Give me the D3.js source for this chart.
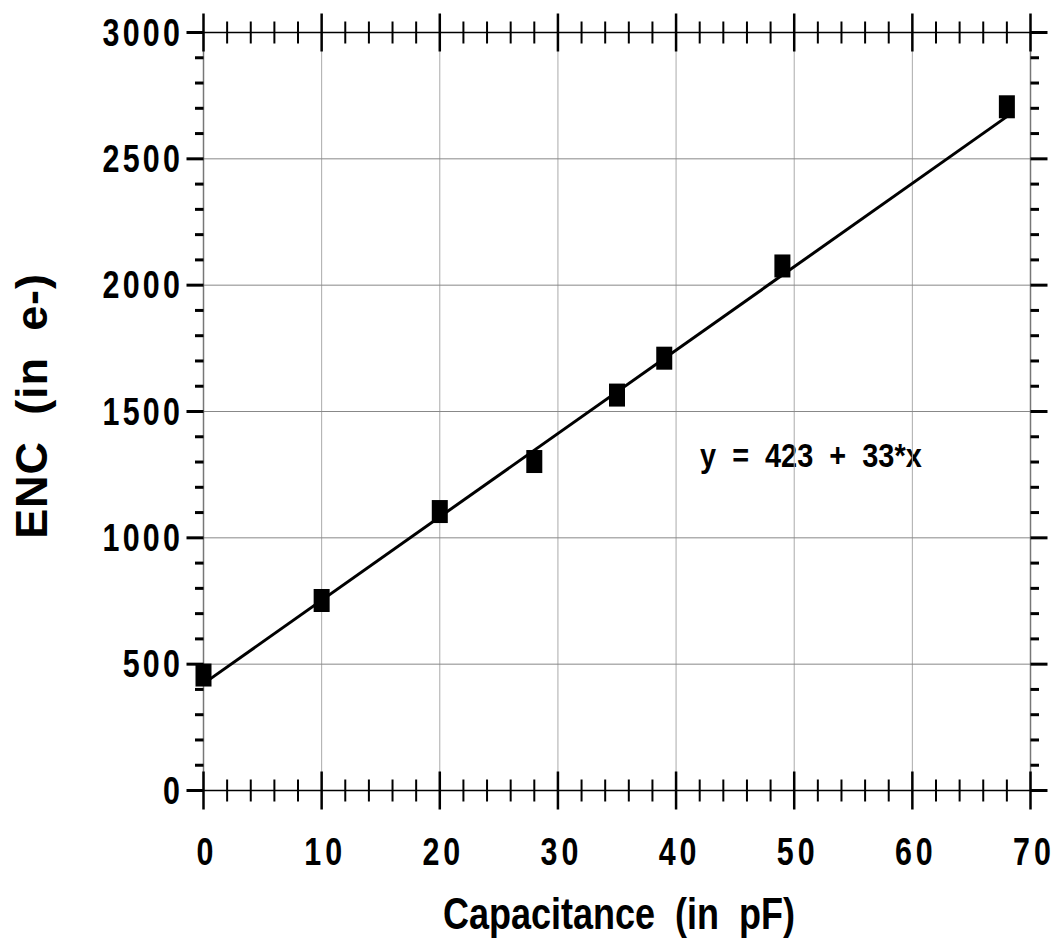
<!DOCTYPE html>
<html>
<head>
<meta charset="utf-8">
<script src="https://cdn.jsdelivr.net/npm/d3@7"></script>
<style>
  body { margin: 0; background: #fff; }
  text { font-family: "Liberation Sans", Arial, sans-serif; font-weight: bold; fill: #000; white-space: pre; }
</style>
</head>
<body>
<script>
// data
const capacitance = [0, 10, 20, 28, 35, 39, 49, 68];
const enc = [457, 752, 1104, 1302, 1565, 1711, 2076, 2706];
const fitIntercept = 423;
const fitSlope = 33;
const xTicks = [0, 10, 20, 30, 40, 50, 60, 70];
const yTicks = [0, 500, 1000, 1500, 2000, 2500, 3000];
const xMinor = d3.range(0, 71, 2);
const yMinor = d3.range(0, 3001, 100);

const width = 1061, height = 944;

const x = d3.scaleLinear().domain([0, 70]).range([203.5, 1030.5]);
const y = d3.scaleLinear().domain([0, 3000]).range([790.5, 32.5]);

const svg = d3.select("body").append("svg")
    .attr("width", width)
    .attr("height", height);

// condensed look: no narrow font installed, so squeeze Liberation Sans
function label(parent, px, py, str, size, sx, anchor, spacing) {
    return parent.append("text")
        .attr("transform", `translate(${px},${py}) scale(${sx},1)`)
        .attr("font-size", size)
        .attr("letter-spacing", spacing || 0)
        .attr("text-anchor", anchor)
        .text(str);
}

// equation label (sits under the grid in the original)
label(svg, 700, 467, "y  =  423  +  33*x", 34, 0.85, "start");

// grid
svg.append("g").selectAll("line")
    .data(xTicks.slice(1, -1))
    .enter().append("line")
    .attr("x1", d => x(d)).attr("x2", d => x(d))
    .attr("y1", y(3000)).attr("y2", y(0))
    .attr("stroke", "#aaa").attr("stroke-width", 1);

svg.append("g").selectAll("line")
    .data(yTicks.slice(1, -1))
    .enter().append("line")
    .attr("y1", d => y(d)).attr("y2", d => y(d))
    .attr("x1", x(0)).attr("x2", x(70))
    .attr("stroke", "#888").attr("stroke-width", 1);

// frame: grey sides, black top/bottom
[0, 70].forEach(v => {
    svg.append("line")
        .attr("x1", x(v)).attr("x2", x(v))
        .attr("y1", y(3000)).attr("y2", y(0))
        .attr("stroke", "#777").attr("stroke-width", 1.5);
});
[0, 3000].forEach(v => {
    svg.append("line")
        .attr("x1", x(0)).attr("x2", x(70))
        .attr("y1", y(v)).attr("y2", y(v))
        .attr("stroke", "#000").attr("stroke-width", 1.5);
});

// x ticks crossing top and bottom lines
[0, 3000].forEach(v => {
    svg.append("g").selectAll("line")
        .data(xMinor)
        .enter().append("line")
        .attr("x1", d => x(d)).attr("x2", d => x(d))
        .attr("y1", d => y(v) - (d % 10 === 0 ? 19 : 11))
        .attr("y2", d => y(v) + (d % 10 === 0 ? 19 : 11))
        .attr("stroke", "#000")
        .attr("stroke-width", d => d % 10 === 0 ? 2.5 : 2);
});

// y ticks outward on left and right
svg.append("g").selectAll("line")
    .data(yMinor)
    .enter().append("line")
    .attr("y1", d => y(d)).attr("y2", d => y(d))
    .attr("x1", d => x(0) - (d % 500 === 0 ? 17 : 8.5))
    .attr("x2", x(0))
    .attr("stroke", "#000").attr("stroke-width", 3);

svg.append("g").selectAll("line")
    .data(yMinor)
    .enter().append("line")
    .attr("y1", d => y(d)).attr("y2", d => y(d))
    .attr("x1", x(70))
    .attr("x2", d => x(70) + (d % 500 === 0 ? 17 : 8.5))
    .attr("stroke", "#000").attr("stroke-width", 3);

// tick labels
const yLab = svg.append("g");
yTicks.forEach(d => label(yLab, 183, y(d) + 13, String(d), 38, 0.8, "end", 4));

const xLab = svg.append("g");
xTicks.forEach(d => label(xLab, x(d) + 3.5, 865, String(d), 38, 0.8, "middle", 5));

// axis titles
label(svg, 619, 929, "Capacitance  (in  pF)", 45, 0.8, "middle");

svg.append("text")
    .attr("transform", "translate(47,406) rotate(-90)")
    .attr("text-anchor", "middle")
    .attr("font-size", 45)
    .attr("letter-spacing", 0.8)
    .text("ENC  (in  e-)");

// fit line
const fitX = [0, d3.max(capacitance)];
svg.append("path")
    .datum(fitX)
    .attr("fill", "none")
    .attr("stroke", "#000")
    .attr("stroke-width", 3)
    .attr("d", d3.line().x(d => x(d)).y(d => y(fitIntercept + fitSlope * d)));

// markers
svg.append("g").selectAll("rect")
    .data(capacitance.map((c, i) => [c, enc[i]]))
    .enter().append("rect")
    .attr("x", d => x(d[0]) - 8)
    .attr("y", d => y(d[1]) - 11.5)
    .attr("width", 16)
    .attr("height", 23)
    .attr("fill", "#000");
</script>
</body>
</html>
